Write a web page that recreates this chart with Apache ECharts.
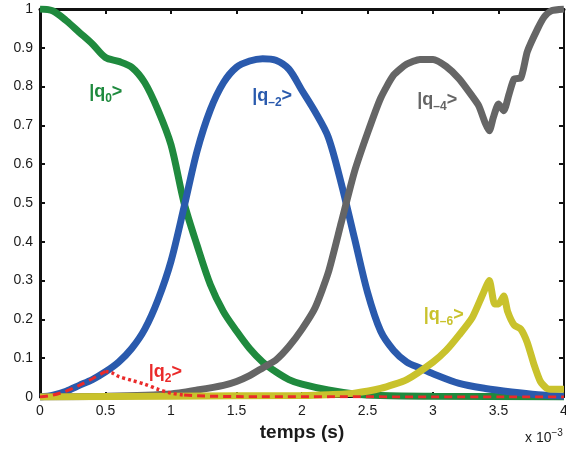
<!DOCTYPE html>
<html><head><meta charset="utf-8">
<script src="https://cdn.jsdelivr.net/npm/echarts@6/dist/echarts.min.js"></script>
<style>html,body{margin:0;padding:0;background:#fff}#c{width:566px;height:450px}</style>
</head><body><div id="c"></div>
<script>
// ---- data (time in ms, i.e. x 10^-3 s) ----
const tQ0  = [0,0.1,0.2,0.3,0.4,0.5,0.6,0.7,0.8,0.9,1.0,1.1,1.2,1.3,1.4,1.5,1.6,1.7,1.8,1.9,2.0,2.2,2.4,2.6,3.0,4.0];
const vQ0  = [1.0,0.995,0.97,0.94,0.91,0.875,0.865,0.85,0.81,0.74,0.65,0.50,0.39,0.29,0.22,0.17,0.125,0.09,0.065,0.045,0.033,0.018,0.008,0.004,0.002,0.0];
const tQm2 = [0,0.1,0.2,0.3,0.4,0.5,0.6,0.7,0.8,0.9,1.0,1.1,1.2,1.3,1.4,1.5,1.6,1.7,1.8,1.9,2.0,2.1,2.2,2.3,2.4,2.5,2.6,2.7,2.8,2.9,3.0,3.2,3.4,3.6,3.8,4.0];
const vQm2 = [0,0.005,0.015,0.03,0.045,0.065,0.09,0.125,0.175,0.25,0.35,0.49,0.635,0.74,0.81,0.85,0.866,0.872,0.868,0.845,0.79,0.735,0.67,0.55,0.41,0.27,0.17,0.12,0.09,0.075,0.06,0.035,0.022,0.013,0.006,0.002];
const tQm4 = [0,0.5,1.0,1.2,1.4,1.5,1.6,1.7,1.8,1.9,2.0,2.1,2.2,2.3,2.4,2.5,2.6,2.7,2.8,2.9,3.0,3.1,3.2,3.3,3.35,3.4,3.43,3.46,3.5,3.54,3.58,3.62,3.67,3.72,3.8,3.85,3.9,4.0];
const vQm4 = [0,0.002,0.008,0.018,0.03,0.04,0.055,0.075,0.095,0.13,0.175,0.23,0.32,0.45,0.58,0.68,0.77,0.83,0.858,0.87,0.87,0.852,0.82,0.775,0.75,0.705,0.686,0.72,0.755,0.738,0.78,0.82,0.822,0.89,0.95,0.98,0.995,1.0];
const tQm6 = [0,1.0,2.0,2.2,2.4,2.6,2.8,3.0,3.1,3.2,3.3,3.38,3.43,3.47,3.5,3.54,3.57,3.62,3.67,3.72,3.77,3.82,3.87,3.92,4.0];
const vQm6 = [0,0.002,0.004,0.006,0.01,0.022,0.045,0.09,0.12,0.16,0.205,0.265,0.3,0.24,0.24,0.26,0.22,0.185,0.175,0.14,0.085,0.04,0.022,0.02,0.02];
const tQ2  = [0,0.1,0.2,0.3,0.4,0.5,0.55,0.6,0.7,0.8,0.9,1.0,1.1,1.2,1.5,4.0];
const vQ2  = [0,0.005,0.015,0.03,0.047,0.066,0.062,0.053,0.043,0.033,0.02,0.01,0.005,0.003,0.001,0];
const q2DotStart = 0.5, q2DotEnd = 1.1;   // range drawn dotted in the original
const xTicks = [0,0.5,1,1.5,2,2.5,3,3.5,4];
const yTicks = [0,0.1,0.2,0.3,0.4,0.5,0.6,0.7,0.8,0.9,1];
// label texts and anchor positions (data coords)
const labelText = ['{m||q}{s|0}{m|>}','{m||q}{s|–2}{m|>}','{m||q}{s|–4}{m|>}','{m||q}{s|–6}{m|>}','{m||q}{s|2}{m|>}'];
const labelT = [0.375,1.62,2.88,2.93,0.83];
const labelV = [0.785,0.775,0.765,0.21,0.065];

const cGreen='#1f8a3e', cBlue='#2a5aad', cGray='#656565', cYellow='#c9c22c', cRed='#ea2a2a';
const labelColors=[cGreen,cBlue,cGray,cYellow,cRed];
const pairs=(t,v)=>t.map((x,i)=>[x,v[i]]);
const FONT='"Liberation Sans", Arial, Helvetica, sans-serif';
const q2Dash = pairs(tQ2,vQ2).map(p=>(p[0]>q2DotStart && p[0]<q2DotEnd) ? [p[0],null] : p);
const q2Dot = pairs(tQ2,vQ2).filter(p=>p[0]>=q2DotStart && p[0]<=q2DotEnd);

const chart = echarts.init(document.getElementById('c'), null, {renderer:'canvas'});
const axisCommon = {type:'value', splitLine:{show:false}, axisLine:{onZero:false, lineStyle:{color:'#111', width:2}}, axisTick:{inside:true, length:5, lineStyle:{color:'#111', width:2}}};
chart.setOption({
  animation:false,
  backgroundColor:'#fff',
  grid:{left:40, right:2, top:9, bottom:53, containLabel:false, outerBoundsMode:'none'},
  xAxis:[
    Object.assign({}, axisCommon, {min:xTicks[0], max:xTicks[xTicks.length-1], interval:xTicks[1]-xTicks[0], position:'bottom',
      axisLabel:{margin:7, color:'#1a1a1a', fontSize:14, fontFamily:FONT},
      name:'temps (s)', nameLocation:'middle', nameGap:26, nameTextStyle:{fontWeight:'bold', fontSize:19, color:'#1a1a1a', fontFamily:FONT}}),
    Object.assign({}, axisCommon, {min:xTicks[0], max:xTicks[xTicks.length-1], interval:xTicks[1]-xTicks[0], position:'top',
      axisLine:{onZero:false, lineStyle:{color:'#111', width:3}}, axisLabel:{show:false}})
  ],
  yAxis:[
    Object.assign({}, axisCommon, {min:yTicks[0], max:yTicks[yTicks.length-1], interval:0.1, position:'left',
      axisLine:{onZero:false, lineStyle:{color:'#111', width:3}},
      axisLabel:{margin:7, color:'#1a1a1a', fontSize:14, fontFamily:FONT}}),
    Object.assign({}, axisCommon, {min:yTicks[0], max:yTicks[yTicks.length-1], interval:0.1, position:'right', axisLabel:{show:false}})
  ],
  series:[
    {type:'line', data:pairs(tQ0,vQ0), showSymbol:false, smooth:0.3, lineStyle:{color:cGreen, width:7}, z:2},
    {type:'line', data:pairs(tQm2,vQm2), showSymbol:false, smooth:0.3, lineStyle:{color:cBlue, width:7}, z:3},
    {type:'line', data:pairs(tQm4,vQm4), showSymbol:false, smooth:0.2, lineStyle:{color:cGray, width:7}, z:4},
    {type:'line', data:pairs(tQm6,vQm6), showSymbol:false, smooth:0.2, lineStyle:{color:cYellow, width:7}, z:5},
    {type:'line', data:q2Dash, showSymbol:false, smooth:0.3, connectNulls:false, lineStyle:{color:cRed, width:3, type:[8,5]}, z:6},
    {type:'line', data:q2Dot, showSymbol:false, smooth:0.3, lineStyle:{color:cRed, width:3.5, type:[3,3]}, z:6}
  ]
});

const gfx = labelText.map((txt,i)=>{
  const p = chart.convertToPixel({gridIndex:0},[labelT[i],labelV[i]]);
  return {type:'text', x:p[0], y:p[1], z:100,
    style:{text:txt, fill:labelColors[i], verticalAlign:'middle', align:'left',
      rich:{m:{fontSize:18, fontWeight:'bold', fontFamily:FONT, fill:labelColors[i]},
            s:{fontSize:12, fontWeight:'bold', fontFamily:FONT, fill:labelColors[i], padding:[13,0,0,0]}}}};
});
const pEnd = chart.convertToPixel({gridIndex:0},[xTicks[xTicks.length-1],0]);
gfx.push({type:'text', x:pEnd[0]-39, y:pEnd[1]+41, z:100,
  style:{text:'{m|x 10}{s|−3}', verticalAlign:'middle', align:'left',
    rich:{m:{fontSize:14, fontFamily:FONT, fill:'#1a1a1a'}, s:{fontSize:10, fontFamily:FONT, fill:'#1a1a1a', padding:[0,0,10,0]}}}});
chart.setOption({graphic:gfx});
</script></body></html>
